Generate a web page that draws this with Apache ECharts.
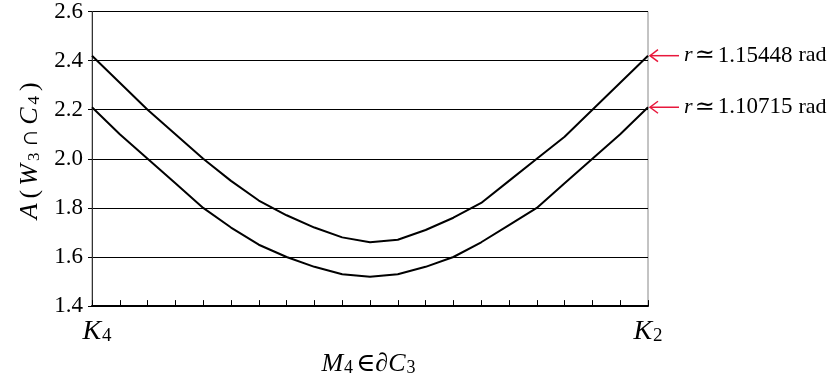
<!DOCTYPE html>
<html>
<head>
<meta charset="utf-8">
<script src="https://cdn.jsdelivr.net/npm/echarts@6/dist/echarts.min.js"></script>
<style>
  html, body { margin: 0; padding: 0; background: #fff; }
  #chart { width: 836px; height: 382px; }
</style>
</head>
<body>
<div id="chart"></div>
<script>
// positions along the boundary, K4 (0) to K2 (20)
var xSteps = [0, 1, 2, 3, 4, 5, 6, 7, 8, 9, 10, 11, 12, 13, 14, 15, 16, 17, 18, 19, 20];
// r = 1.15448 rad
var upperArea = [2.42, 2.31, 2.20, 2.10, 2.00, 1.91, 1.83, 1.77, 1.72, 1.68, 1.66,
                 1.67, 1.71, 1.76, 1.82, 1.91, 2.00, 2.09, 2.20, 2.31, 2.42];
// r = 1.10715 rad
var lowerArea = [2.21, 2.10, 2.00, 1.90, 1.80, 1.72, 1.65, 1.60, 1.56, 1.53, 1.52,
                 1.53, 1.56, 1.60, 1.66, 1.73, 1.80, 1.90, 2.00, 2.10, 2.21];
var yTicks = [1.4, 1.6, 1.8, 2.0, 2.2, 2.4, 2.6];
var radLabels = ['1.15448', '1.10715'];

var serif = '"Liberation Serif", "DejaVu Serif", serif';

function pairs(ys) {
  return xSteps.map(function (x, i) { return [x, ys[i]]; });
}

var chart = echarts.init(document.getElementById('chart'));

var option = {
  animation: false,
  grid: {
    left: 92, right: 188, top: 10, bottom: 71,
    show: true, borderColor: '#888', borderWidth: 1
  },
  xAxis: {
    type: 'value',
    min: 0, max: 20, interval: 1,
    axisLine: { show: true, onZero: false, lineStyle: { color: '#000', width: 2 } },
    axisTick: { show: true, inside: true, length: 6, lineStyle: { color: '#000' } },
    splitLine: { show: false },
    axisLabel: {
      margin: 12,
      formatter: function (v) {
        if (v === 0) return '{k|K}{s|4}';
        if (v === 20) return '{i|K}{s|2}';
        return '';
      },
      rich: {
        k: { fontFamily: serif, fontStyle: 'italic', fontSize: 28, color: '#000', verticalAlign: 'bottom', padding: [0, 0, 0, 10] },
        i: { fontFamily: serif, fontStyle: 'italic', fontSize: 28, color: '#000', verticalAlign: 'bottom' },
        s: { fontFamily: serif, fontSize: 19, color: '#000', verticalAlign: 'bottom', padding: [0, 0, 1, 1] }
      }
    },
    name: '{i|M}{s|4}{t|∈∂}{i|C}{s|3}',
    nameLocation: 'middle',
    nameGap: 40,
    nameTextStyle: {
      rich: {
        i: { fontFamily: serif, fontStyle: 'italic', fontSize: 26, color: '#000', verticalAlign: 'bottom' },
        s: { fontFamily: serif, fontSize: 18, color: '#000', verticalAlign: 'bottom', padding: [0, 3, 0, 1] },
        t: { fontFamily: serif, fontSize: 26, color: '#000', verticalAlign: 'bottom' }
      }
    }
  },
  yAxis: {
    type: 'value',
    min: yTicks[0], max: yTicks[yTicks.length - 1], interval: 0.2,
    axisLine: { show: true, lineStyle: { color: '#333', width: 1 } },
    axisTick: { show: true, length: 4, lineStyle: { color: '#000' } },
    splitLine: { show: true, lineStyle: { color: '#000', width: 1 } },
    axisLabel: {
      margin: 9,
      formatter: function (v) { return '{n|' + v.toFixed(1) + '}'; },
      rich: {
        n: { fontFamily: serif, fontSize: 23, color: '#000' }
      }
    },
    name: '{a|A}{t|(}{i|W}{s|3}{t|∩}{i|C}{s|4}{t|)}',
    nameLocation: 'middle',
    nameGap: 48,
    nameRotate: 90,
    nameTextStyle: {
      rich: {
        a: { fontFamily: serif, fontStyle: 'italic', fontSize: 26, color: '#000', verticalAlign: 'bottom', padding: [0, 3, 0, 18] },
        i: { fontFamily: serif, fontStyle: 'italic', fontSize: 26, color: '#000', verticalAlign: 'bottom', padding: [0, 2, 0, 2] },
        s: { fontFamily: serif, fontSize: 17, color: '#000', verticalAlign: 'bottom', padding: [0, 3, 0, 1] },
        t: { fontFamily: serif, fontSize: 26, color: '#000', verticalAlign: 'bottom', padding: [0, 2, 0, 2] }
      }
    }
  },
  series: [
    {
      type: 'line', data: pairs(upperArea), showSymbol: false,
      lineStyle: { color: '#000', width: 2 }
    },
    {
      type: 'line', data: pairs(lowerArea), showSymbol: false,
      lineStyle: { color: '#000', width: 2 }
    }
  ]
};
chart.setOption(option);

// red arrows pointing at the right-hand end of each curve
var ends = [upperArea[upperArea.length - 1], lowerArea[lowerArea.length - 1]];
var graphics = [];
ends.forEach(function (v, i) {
  var p = chart.convertToPixel({ gridIndex: 0 }, [xSteps[xSteps.length - 1], v]);
  var x0 = p[0] + 2, y0 = p[1];
  graphics.push({
    type: 'line', silent: true,
    shape: { x1: x0, y1: y0, x2: x0 + 29, y2: y0 },
    style: { stroke: '#e8183c', lineWidth: 1.5 }
  });
  graphics.push({
    type: 'polyline', silent: true,
    shape: { points: [[x0 + 8, y0 - 6], [x0, y0], [x0 + 8, y0 + 6]] },
    style: { stroke: '#e8183c', lineWidth: 1.5, fill: null }
  });
  graphics.push({
    type: 'text', silent: true,
    x: x0 + 34, y: y0,
    style: {
      text: '{i|r}{t|≃}{n|' + radLabels[i] + '}{u|rad}',
      verticalAlign: 'middle',
      rich: {
        i: { fontFamily: serif, fontStyle: 'italic', fontSize: 22, fill: '#000', padding: [0, 2, 0, 0] },
        t: { fontFamily: serif, fontSize: 24, fill: '#000', padding: [0, 3, 0, 0] },
        n: { fontFamily: serif, fontSize: 23, fill: '#000', padding: [0, 6, 0, 0] },
        u: { fontFamily: serif, fontSize: 22, fill: '#000' }
      }
    }
  });
});
chart.setOption({ graphic: graphics });
</script>
</body>
</html>
